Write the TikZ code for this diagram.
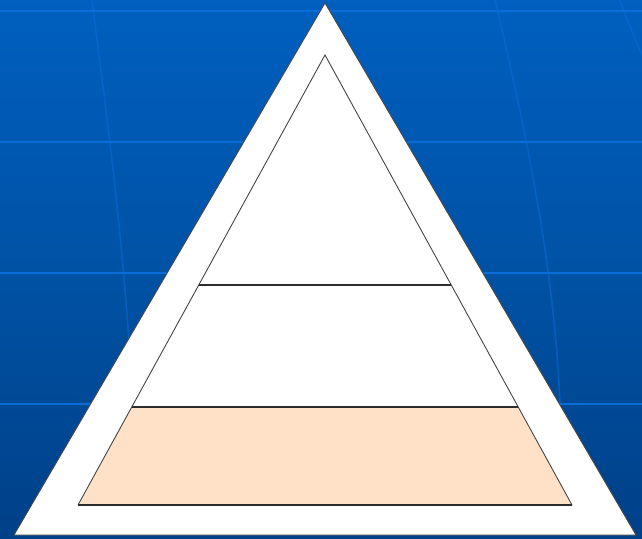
\documentclass[tikz,border=0pt]{standalone}
\begin{document}
\begin{tikzpicture}[x=1pt,y=1pt,
  gridline/.style={draw=gridblue,line width=2.2pt},
  arcline/.style={draw=gridblue,opacity=0.55,line width=1.6pt},
  outline/.style={draw=edgegray,line width=0.9pt,line join=miter},
  sepline/.style={draw=sepdark,line width=1.6pt}]
\definecolor{bgtop}{RGB}{0,95,191}
\definecolor{bgmid}{RGB}{0,82,165}
\definecolor{bgbot}{RGB}{0,64,136}
\definecolor{gridblue}{RGB}{10,108,214}
\definecolor{edgegray}{RGB}{70,70,70}
\definecolor{sepdark}{RGB}{45,45,45}
\definecolor{peach}{RGB}{255,225,200}
\useasboundingbox (0,0) rectangle (642,538);
% background
\shade[top color=bgtop,bottom color=bgbot,middle color=bgmid] (0,0) rectangle (642,538);
\foreach \yy in {527,396,265,134}
  \draw[gridline] (0,\yy) -- (642,\yy);
\draw[arcline] (92,538) .. controls (104,440) and (122,320) .. (132,150);
\draw[arcline] (495,538) .. controls (535,370) and (555,250) .. (560,134);
\draw[arcline] (620,538) .. controls (630,510) and (637,495) .. (642,483);
% outer triangle
\coordinate (oa) at (325,535);
\coordinate (ol) at (14,3);
\coordinate (or) at (636,3);
\filldraw[fill=white,outline] (oa) -- (ol) -- (or) -- cycle;
% inner pyramid
\coordinate (ia) at (325,483);
\coordinate (l1) at (198.7,253);
\coordinate (r1) at (451.3,253);
\coordinate (l2) at (131.8,131);
\coordinate (r2) at (518.2,131);
\coordinate (l3) at (78,33);
\coordinate (r3) at (572,33);
\fill[peach] (l2) -- (r2) -- (r3) -- (l3) -- cycle;
\draw[outline] (l3) -- (ia) -- (r3);
\draw[sepline] (l1) -- (r1);
\draw[sepline] (l2) -- (r2);
\draw[sepline] (l3) -- (r3);
\end{tikzpicture}
\end{document}
